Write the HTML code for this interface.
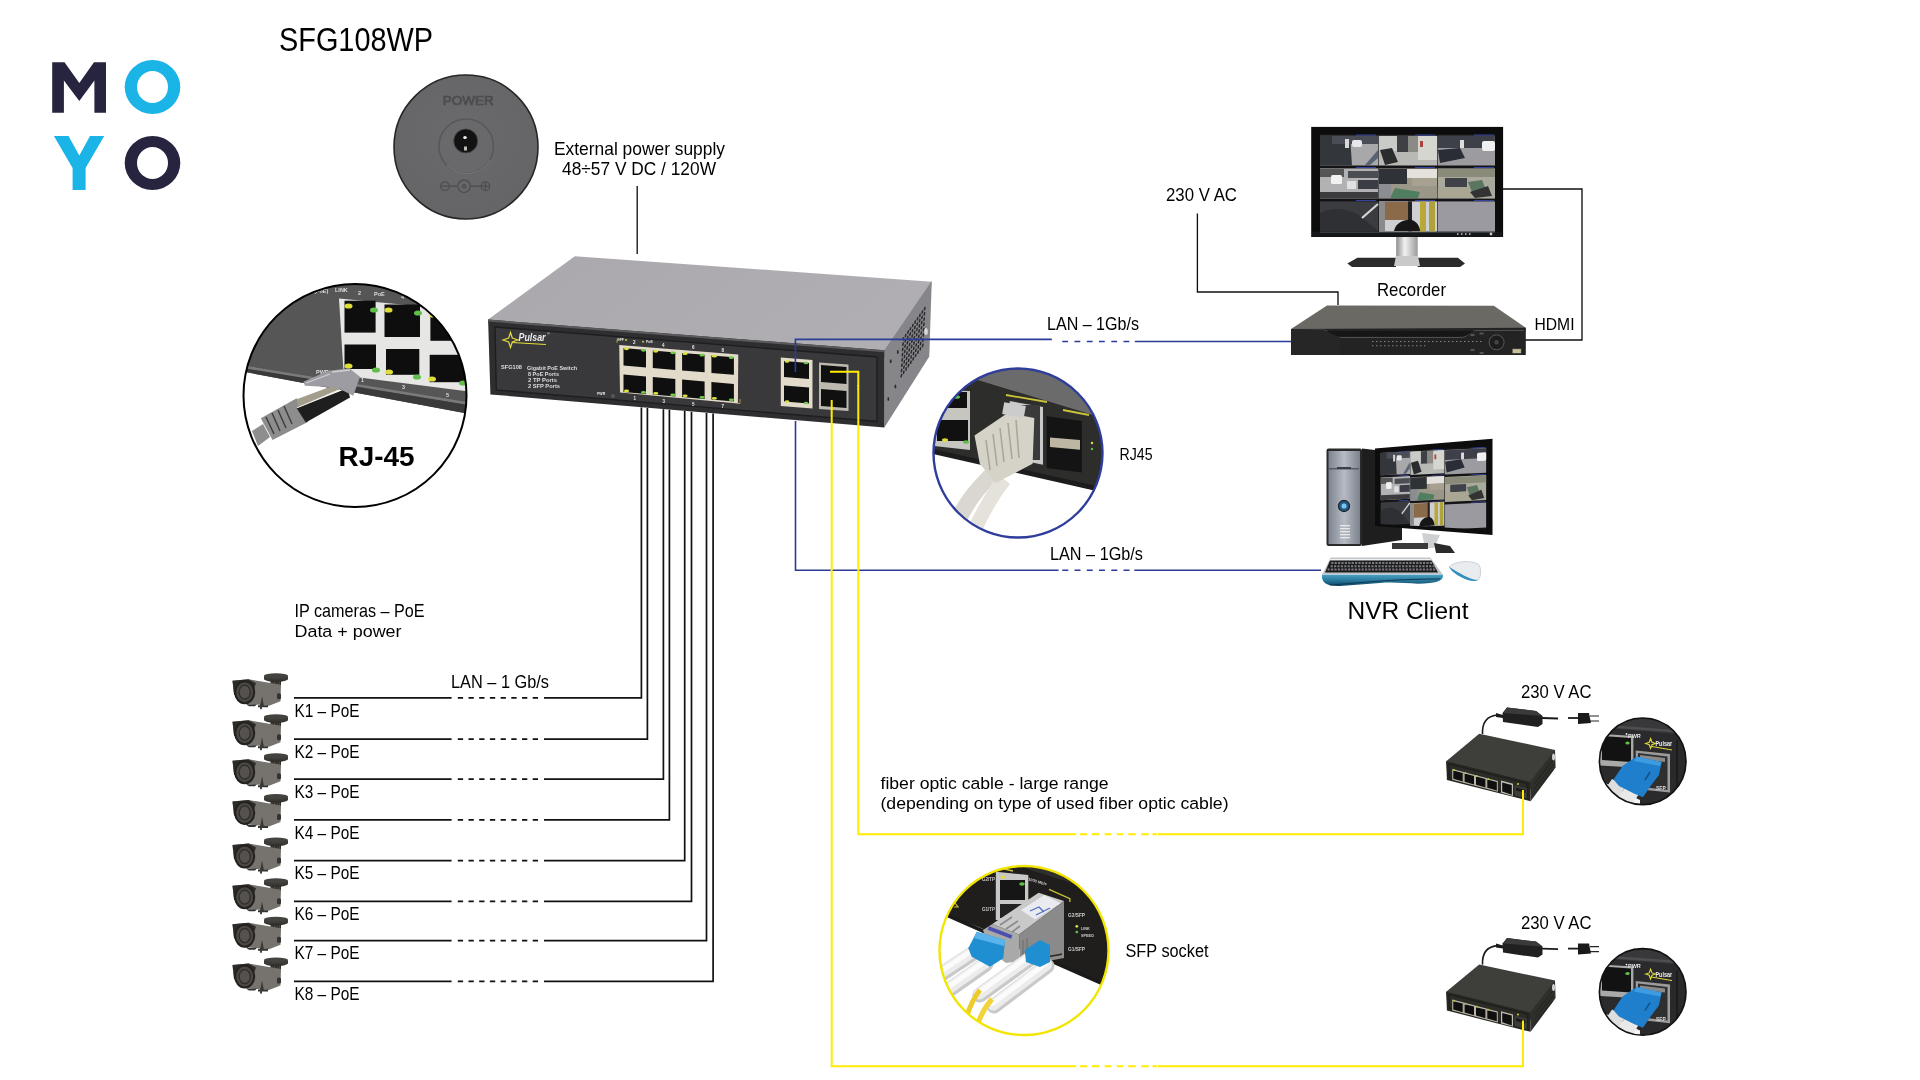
<!DOCTYPE html><html><head><meta charset="utf-8"><style>html,body{margin:0;padding:0;background:#fff;overflow:hidden}svg{display:block;will-change:transform}text{font-family:"Liberation Sans",sans-serif}</style></head><body>
<svg width="1920" height="1080" viewBox="0 0 1920 1080">
<rect width="1920" height="1080" fill="#fff"/>
<polygon points="52.2,62.2 64.5,62.2 79.3,83.0 94.0,62.2 106.0,62.2 106.0,112.8 94.4,112.8 94.4,80.5 79.3,100.9 63.9,80.5 63.9,112.8 52.2,112.8" fill="#26243f" />
<path fill-rule="evenodd" fill="#1ab4e7" d="M124.7,87 a27.8,27 0 1,0 55.6,0 a27.8,27 0 1,0 -55.6,0 Z M137,87 a15.5,16 0 1,0 31,0 a15.5,16 0 1,0 -31,0 Z"/>
<polygon points="53.9,136.1 68.5,136.1 79.3,155.6 90.0,136.1 104.2,136.1 85.6,168.0 85.6,190.0 72.6,190.0 72.6,168.0" fill="#1ab4e7" />
<path fill-rule="evenodd" fill="#26243f" d="M124.7,163 a27.8,27 0 1,0 55.6,0 a27.8,27 0 1,0 -55.6,0 Z M137,163 a15.5,16 0 1,0 31,0 a15.5,16 0 1,0 -31,0 Z"/>
<text x="279.0" y="50.8" font-size="33.80" textLength="154.0" lengthAdjust="spacingAndGlyphs" fill="#000" >SFG108WP</text>
<text x="554.0" y="154.8" font-size="18.20" textLength="171.0" lengthAdjust="spacingAndGlyphs" fill="#000" >External power supply</text>
<text x="562.0" y="175.0" font-size="17.80" textLength="154.0" lengthAdjust="spacingAndGlyphs" fill="#000" >48÷57 V DC / 120W</text>
<text x="1166.0" y="200.9" font-size="18.50" textLength="71.0" lengthAdjust="spacingAndGlyphs" fill="#000" >230 V AC</text>
<text x="1377.0" y="295.6" font-size="17.90" textLength="69.0" lengthAdjust="spacingAndGlyphs" fill="#000" >Recorder</text>
<text x="1534.5" y="330.0" font-size="17.00" textLength="40.0" lengthAdjust="spacingAndGlyphs" fill="#000" >HDMI</text>
<text x="1047.0" y="329.8" font-size="18.90" textLength="92.0" lengthAdjust="spacingAndGlyphs" fill="#000" >LAN – 1Gb/s</text>
<text x="338.5" y="465.7" font-size="27.80" textLength="76.0" lengthAdjust="spacingAndGlyphs" font-weight="bold" fill="#000" >RJ-45</text>
<text x="1119.5" y="459.9" font-size="17.30" textLength="33.0" lengthAdjust="spacingAndGlyphs" fill="#000" >RJ45</text>
<text x="1050.0" y="559.5" font-size="18.40" textLength="93.0" lengthAdjust="spacingAndGlyphs" fill="#000" >LAN – 1Gb/s</text>
<text x="1347.5" y="619.4" font-size="23.80" textLength="121.0" lengthAdjust="spacingAndGlyphs" fill="#000" >NVR Client</text>
<text x="294.5" y="616.9" font-size="18.20" textLength="130.0" lengthAdjust="spacingAndGlyphs" fill="#000" >IP cameras – PoE</text>
<text x="294.5" y="637.2" font-size="16.30" textLength="107.0" lengthAdjust="spacingAndGlyphs" fill="#000" >Data + power</text>
<text x="451.0" y="687.5" font-size="18.60" textLength="98.0" lengthAdjust="spacingAndGlyphs" fill="#000" >LAN – 1 Gb/s</text>
<text x="294.5" y="716.6" font-size="18.20" textLength="65.0" lengthAdjust="spacingAndGlyphs" fill="#000" >K1 – PoE</text>
<text x="294.5" y="757.8" font-size="18.20" textLength="65.0" lengthAdjust="spacingAndGlyphs" fill="#000" >K2 – PoE</text>
<text x="294.5" y="797.8" font-size="18.20" textLength="65.0" lengthAdjust="spacingAndGlyphs" fill="#000" >K3 – PoE</text>
<text x="294.5" y="838.5" font-size="18.20" textLength="65.0" lengthAdjust="spacingAndGlyphs" fill="#000" >K4 – PoE</text>
<text x="294.5" y="879.3" font-size="18.20" textLength="65.0" lengthAdjust="spacingAndGlyphs" fill="#000" >K5 – PoE</text>
<text x="294.5" y="920.0" font-size="18.20" textLength="65.0" lengthAdjust="spacingAndGlyphs" fill="#000" >K6 – PoE</text>
<text x="294.5" y="959.3" font-size="18.20" textLength="65.0" lengthAdjust="spacingAndGlyphs" fill="#000" >K7 – PoE</text>
<text x="294.5" y="1000.0" font-size="18.20" textLength="65.0" lengthAdjust="spacingAndGlyphs" fill="#000" >K8 – PoE</text>
<text x="1521.0" y="698.2" font-size="18.20" textLength="70.5" lengthAdjust="spacingAndGlyphs" fill="#000" >230 V AC</text>
<text x="1521.0" y="928.8" font-size="18.20" textLength="70.5" lengthAdjust="spacingAndGlyphs" fill="#000" >230 V AC</text>
<text x="880.5" y="788.5" font-size="17.20" textLength="228.0" lengthAdjust="spacingAndGlyphs" fill="#000" >fiber optic cable - large range</text>
<text x="880.5" y="808.5" font-size="17.20" textLength="348.0" lengthAdjust="spacingAndGlyphs" fill="#000" >(depending on type of used fiber optic cable)</text>
<text x="1125.5" y="957.4" font-size="18.90" textLength="83.0" lengthAdjust="spacingAndGlyphs" fill="#000" >SFP socket</text>
<g fill="none" stroke="#111" stroke-width="1.7">
<path d="M637.2,186 V254" stroke-width="1.35"/>
<path d="M1197.4,213.5 V292 H1338 V305" stroke-width="1.35"/>
<path d="M1503,189 H1582 V340 H1525" stroke-width="1.35"/>
<path d="M294,697.9 H451.6 M544,697.9 H641.4 V407.4"/>
<path d="M457.8,697.9 h5.3 M468.5,697.9 h5.3 M479.2,697.9 h5.3 M489.9,697.9 h5.3 M500.6,697.9 h5.3 M511.3,697.9 h5.3 M522.0,697.9 h5.3 M532.7,697.9 h5.3 "/>
<path d="M294,739.1 H451.6 M544,739.1 H647.4 V407.9"/>
<path d="M457.8,739.1 h5.3 M468.5,739.1 h5.3 M479.2,739.1 h5.3 M489.9,739.1 h5.3 M500.6,739.1 h5.3 M511.3,739.1 h5.3 M522.0,739.1 h5.3 M532.7,739.1 h5.3 "/>
<path d="M294,779.1 H451.6 M544,779.1 H663.4 V409.3"/>
<path d="M457.8,779.1 h5.3 M468.5,779.1 h5.3 M479.2,779.1 h5.3 M489.9,779.1 h5.3 M500.6,779.1 h5.3 M511.3,779.1 h5.3 M522.0,779.1 h5.3 M532.7,779.1 h5.3 "/>
<path d="M294,819.8 H451.6 M544,819.8 H669.4 V409.8"/>
<path d="M457.8,819.8 h5.3 M468.5,819.8 h5.3 M479.2,819.8 h5.3 M489.9,819.8 h5.3 M500.6,819.8 h5.3 M511.3,819.8 h5.3 M522.0,819.8 h5.3 M532.7,819.8 h5.3 "/>
<path d="M294,860.6 H451.6 M544,860.6 H684.7 V411.1"/>
<path d="M457.8,860.6 h5.3 M468.5,860.6 h5.3 M479.2,860.6 h5.3 M489.9,860.6 h5.3 M500.6,860.6 h5.3 M511.3,860.6 h5.3 M522.0,860.6 h5.3 M532.7,860.6 h5.3 "/>
<path d="M294,901.3 H451.6 M544,901.3 H691.5 V411.7"/>
<path d="M457.8,901.3 h5.3 M468.5,901.3 h5.3 M479.2,901.3 h5.3 M489.9,901.3 h5.3 M500.6,901.3 h5.3 M511.3,901.3 h5.3 M522.0,901.3 h5.3 M532.7,901.3 h5.3 "/>
<path d="M294,940.6 H451.6 M544,940.6 H706.5 V413.0"/>
<path d="M457.8,940.6 h5.3 M468.5,940.6 h5.3 M479.2,940.6 h5.3 M489.9,940.6 h5.3 M500.6,940.6 h5.3 M511.3,940.6 h5.3 M522.0,940.6 h5.3 M532.7,940.6 h5.3 "/>
<path d="M294,981.3 H451.6 M544,981.3 H713.1 V413.6"/>
<path d="M457.8,981.3 h5.3 M468.5,981.3 h5.3 M479.2,981.3 h5.3 M489.9,981.3 h5.3 M500.6,981.3 h5.3 M511.3,981.3 h5.3 M522.0,981.3 h5.3 M532.7,981.3 h5.3 "/>
</g>
<defs>
<radialGradient id="pwrg" cx="0.45" cy="0.4" r="0.6"><stop offset="0" stop-color="#6a6a6d"/><stop offset="1" stop-color="#656568"/></radialGradient>
<linearGradient id="topg" x1="0" y1="0" x2="1" y2="0.3"><stop offset="0" stop-color="#aaa8ac"/><stop offset="1" stop-color="#b0aeb2"/></linearGradient>
<linearGradient id="neckg" x1="0" y1="0" x2="1" y2="0"><stop offset="0" stop-color="#8d8d8d"/><stop offset="0.4" stop-color="#f2f2f2"/><stop offset="1" stop-color="#9a9a9a"/></linearGradient>
</defs>
<circle cx="466" cy="147" r="72" fill="url(#pwrg)" stroke="#262626" stroke-width="1.6"/>
<circle cx="466.2" cy="146.2" r="27.2" fill="#69696c" stroke="#58585b" stroke-width="1.6"/>
<path d="M447,165 A27,27 0 0,0 490,160" fill="none" stroke="#747477" stroke-width="1.2"/>
<circle cx="465.7" cy="140.9" r="12" fill="#121212" stroke="#4a4a4c" stroke-width="0.8"/>
<ellipse cx="465" cy="137.5" rx="1.8" ry="1.6" fill="#f2f2f2"/>
<rect x="464" y="146.5" width="3" height="4" fill="#bdbdb5"/>
<text x="442.8" y="105.2" font-size="12.60" textLength="51.0" lengthAdjust="spacingAndGlyphs" fill="#58585b" stroke="#48484b" stroke-width="0.7">POWER</text>
<g fill="none" stroke="#4c4c4f" stroke-width="1.2"><circle cx="444.9" cy="186.2" r="4.3"/><path d="M441.5,186.2 h7 M449.2,186.2 H457.6 M470.6,186.2 H481.1"/><circle cx="464.1" cy="186.2" r="6.3"/><circle cx="464.1" cy="186.2" r="1.6"/><circle cx="485.4" cy="186.2" r="4.3"/><path d="M482,186.2 h7 M485.4,182.8 v7"/></g>
<polygon points="488.1,319.6 574.8,256.2 931.7,281.7 931.0,290.0 884.2,358.0 489.0,326.0" fill="url(#topg)" />
<polygon points="884.4,350.3 931.7,281.0 929.3,356.6 884.4,427.5" fill="#868589" />
<polygon points="488.1,319.6 884.4,350.3 884.4,427.5 490.4,394.4" fill="#2e2d30" />
<polygon points="488.1,319.6 884.4,350.3 884.4,352.3 488.1,321.6" fill="#5a595c" />
<polygon points="495.0,327.0 877.0,357.0 877.0,421.5 496.3,390.0" fill="#39383b" stroke="#1e1e20" stroke-width="1.4"/>
<path d="M903.00,340.00 l0.5,-2.2 M905.38,336.64 l0.5,-2.2 M907.76,333.28 l0.5,-2.2 M910.14,329.92 l0.5,-2.2 M912.52,326.56 l0.5,-2.2 M914.90,323.20 l0.5,-2.2 M917.28,319.84 l0.5,-2.2 M919.66,316.48 l0.5,-2.2 M922.04,313.12 l0.5,-2.2 M924.42,309.76 l0.5,-2.2 M902.73,345.25 l0.5,-2.2 M905.11,341.89 l0.5,-2.2 M907.49,338.53 l0.5,-2.2 M909.87,335.17 l0.5,-2.2 M912.25,331.81 l0.5,-2.2 M914.62,328.45 l0.5,-2.2 M917.00,325.09 l0.5,-2.2 M919.38,321.73 l0.5,-2.2 M921.76,318.37 l0.5,-2.2 M924.14,315.01 l0.5,-2.2 M902.45,350.50 l0.5,-2.2 M904.83,347.14 l0.5,-2.2 M907.21,343.78 l0.5,-2.2 M909.59,340.42 l0.5,-2.2 M911.97,337.06 l0.5,-2.2 M914.35,333.70 l0.5,-2.2 M916.73,330.34 l0.5,-2.2 M919.11,326.98 l0.5,-2.2 M921.49,323.62 l0.5,-2.2 M923.87,320.26 l0.5,-2.2 M902.17,355.75 l0.5,-2.2 M904.55,352.39 l0.5,-2.2 M906.93,349.03 l0.5,-2.2 M909.31,345.67 l0.5,-2.2 M911.69,342.31 l0.5,-2.2 M914.07,338.95 l0.5,-2.2 M916.45,335.59 l0.5,-2.2 M918.83,332.23 l0.5,-2.2 M921.21,328.87 l0.5,-2.2 M923.59,325.51 l0.5,-2.2 M901.90,361.00 l0.5,-2.2 M904.28,357.64 l0.5,-2.2 M906.66,354.28 l0.5,-2.2 M909.04,350.92 l0.5,-2.2 M911.42,347.56 l0.5,-2.2 M913.80,344.20 l0.5,-2.2 M916.18,340.84 l0.5,-2.2 M918.56,337.48 l0.5,-2.2 M920.94,334.12 l0.5,-2.2 M923.32,330.76 l0.5,-2.2 M901.62,366.25 l0.5,-2.2 M904.00,362.89 l0.5,-2.2 M906.38,359.53 l0.5,-2.2 M908.76,356.17 l0.5,-2.2 M911.14,352.81 l0.5,-2.2 M913.52,349.45 l0.5,-2.2 M915.90,346.09 l0.5,-2.2 M918.28,342.73 l0.5,-2.2 M920.66,339.37 l0.5,-2.2 M923.04,336.01 l0.5,-2.2 M901.35,371.50 l0.5,-2.2 M903.73,368.14 l0.5,-2.2 M906.11,364.78 l0.5,-2.2 M908.49,361.42 l0.5,-2.2 M910.87,358.06 l0.5,-2.2 M913.25,354.70 l0.5,-2.2 M915.63,351.34 l0.5,-2.2 M918.01,347.98 l0.5,-2.2 M920.39,344.62 l0.5,-2.2 M922.77,341.26 l0.5,-2.2 M901.08,376.75 l0.5,-2.2 M903.46,373.39 l0.5,-2.2 M905.84,370.03 l0.5,-2.2 M908.22,366.67 l0.5,-2.2 M910.60,363.31 l0.5,-2.2 M912.98,359.95 l0.5,-2.2 M915.36,356.59 l0.5,-2.2 M917.74,353.23 l0.5,-2.2 M920.12,349.87 l0.5,-2.2 M922.50,346.51 l0.5,-2.2 " stroke="#2a2a2d" stroke-width="1.5" stroke-linecap="round" fill="none"/>
<ellipse cx="897.8" cy="351.9" rx="0.9" ry="2" fill="#2a2a2c"/>
<ellipse cx="890.7" cy="361.3" rx="0.9" ry="2" fill="#2a2a2c"/>
<ellipse cx="895.4" cy="386.5" rx="0.9" ry="2" fill="#2a2a2c"/>
<ellipse cx="888.3" cy="399" rx="0.9" ry="2" fill="#2a2a2c"/>
<ellipse cx="926" cy="331.4" rx="1.8" ry="3.5" fill="#d8d8d8"/>
<path d="M510.5,332.5 L512.3,338 L518,340 L512.3,342 L510.5,347.5 L508.7,342 L503,340 L508.7,338 Z" fill="none" stroke="#e3dc3a" stroke-width="1.2"/>
<text x="518.5" y="340.5" font-size="10" font-weight="bold" font-style="italic" fill="#eee" textLength="27" lengthAdjust="spacingAndGlyphs">Pulsar</text>
<path d="M512,342.5 L546,344.5" stroke="#e3dc3a" stroke-width="1.1"/>
<text x="547" y="335" font-size="4" fill="#ddd">®</text>
<g fill="#ddd" font-size="5" font-weight="bold">
<text x="501" y="368.5" textLength="21" lengthAdjust="spacingAndGlyphs">SFG108</text><text x="527" y="369.5" textLength="50" lengthAdjust="spacingAndGlyphs">Gigabit PoE Switch</text><text x="528" y="375.5" textLength="31" lengthAdjust="spacingAndGlyphs">8 PoE Ports</text><text x="528" y="381.5" textLength="29" lengthAdjust="spacingAndGlyphs">2 TP Ports</text><text x="528" y="387.5" textLength="32" lengthAdjust="spacingAndGlyphs">2 SFP Ports</text>
</g>
<polygon points="619.2,345.0 738.3,354.5 737.9,403.5 620.0,392.5" fill="#e2dbca" />
<polygon points="623.5,348.0 646.0,349.9 646.0,367.4 623.5,365.5" fill="#0f0f10" />
<ellipse cx="626.5" cy="348.8" rx="2.6" ry="1.4" fill="#d9e23a"/>
<ellipse cx="643.5" cy="350.3" rx="2.6" ry="1.4" fill="#6fca4a"/>
<polygon points="623.5,374.6 646.0,376.5 646.0,394.0 623.5,392.1" fill="#0f0f10" />
<ellipse cx="626.5" cy="390.9" rx="2.6" ry="1.4" fill="#d9e23a"/>
<ellipse cx="643.5" cy="392.4" rx="2.6" ry="1.4" fill="#6fca4a"/>
<polygon points="652.8,350.5 675.3,352.4 675.3,369.9 652.8,368.0" fill="#0f0f10" />
<ellipse cx="655.8" cy="351.3" rx="2.6" ry="1.4" fill="#d9e23a"/>
<ellipse cx="672.8" cy="352.8" rx="2.6" ry="1.4" fill="#6fca4a"/>
<polygon points="652.8,377.1 675.3,379.0 675.3,396.5 652.8,394.6" fill="#0f0f10" />
<ellipse cx="655.8" cy="393.4" rx="2.6" ry="1.4" fill="#d9e23a"/>
<ellipse cx="672.8" cy="394.9" rx="2.6" ry="1.4" fill="#6fca4a"/>
<polygon points="682.1,352.9 704.6,354.8 704.6,372.3 682.1,370.4" fill="#0f0f10" />
<ellipse cx="685.1" cy="353.7" rx="2.6" ry="1.4" fill="#d9e23a"/>
<ellipse cx="702.1" cy="355.2" rx="2.6" ry="1.4" fill="#6fca4a"/>
<polygon points="682.1,379.5 704.6,381.4 704.6,398.9 682.1,397.0" fill="#0f0f10" />
<ellipse cx="685.1" cy="395.8" rx="2.6" ry="1.4" fill="#d9e23a"/>
<ellipse cx="702.1" cy="397.3" rx="2.6" ry="1.4" fill="#6fca4a"/>
<polygon points="711.4,355.4 733.9,357.3 733.9,374.8 711.4,372.9" fill="#0f0f10" />
<ellipse cx="714.4" cy="356.2" rx="2.6" ry="1.4" fill="#d9e23a"/>
<ellipse cx="731.4" cy="357.7" rx="2.6" ry="1.4" fill="#6fca4a"/>
<polygon points="711.4,382.0 733.9,383.9 733.9,401.4 711.4,399.5" fill="#0f0f10" />
<ellipse cx="714.4" cy="398.3" rx="2.6" ry="1.4" fill="#d9e23a"/>
<ellipse cx="731.4" cy="399.8" rx="2.6" ry="1.4" fill="#6fca4a"/>
<g fill="#e8e8e8" font-size="4.5" font-weight="bold"><text x="633" y="344">2</text><text x="662" y="346.5">4</text><text x="692" y="349">6</text><text x="721.5" y="351.5">8</text><text x="633.5" y="400">1</text><text x="662.5" y="403">3</text><text x="692" y="405.5">5</text><text x="721.5" y="408">7</text><text x="617" y="341" font-size="3.5">OFF</text><text x="646" y="343" font-size="3.5">PoE</text><text x="597" y="395" font-size="3.5">PWR</text></g>
<circle cx="626" cy="340" r="0.9" fill="#e6e03a"/><circle cx="643" cy="341.7" r="0.9" fill="#e6e03a"/>
<path d="M617,343 V339.5 H620 M740,399 V403.5 H737" stroke="#b9b23a" stroke-width="0.8" fill="none"/>
<circle cx="613" cy="396" r="1.3" fill="none" stroke="#888" stroke-width="0.6"/>
<polygon points="780.8,357.5 812.5,360.0 812.5,408.5 780.8,406.0" fill="#e2dbca" />
<polygon points="784.0,361.0 809.0,363.0 809.0,379.0 784.0,377.0" fill="#0f0f10" />
<ellipse cx="787" cy="361.5" rx="2.3" ry="1.3" fill="#d9e23a"/>
<ellipse cx="806" cy="363.0" rx="2.3" ry="1.3" fill="#6fca4a"/>
<polygon points="784.0,385.5 809.0,387.5 809.0,403.5 784.0,401.5" fill="#0f0f10" />
<ellipse cx="787" cy="401.5" rx="2.3" ry="1.3" fill="#d9e23a"/>
<ellipse cx="806" cy="403.0" rx="2.3" ry="1.3" fill="#6fca4a"/>
<polygon points="819.0,362.5 848.5,364.5 848.5,411.0 819.0,409.0" fill="#bdb9ae" />
<polygon points="821.0,365.0 846.5,367.0 846.5,384.0 821.0,382.0" fill="#101011" />
<polygon points="821.0,389.0 846.5,391.0 846.5,408.0 821.0,406.0" fill="#101011" />
<circle cx="858" cy="386" r="1" fill="#e3e03a"/><circle cx="858" cy="389" r="1" fill="#6fca4a"/>
<g fill="none" stroke="#2a3c97" stroke-width="1.6">
<path d="M795.4,372 V339.4 H1051.8 M1134.8,341.5 H1291"/>
<path d="M1062.3,341.5 h5.8 M1074.5,341.5 h5.8 M1086.8,341.5 h5.8 M1099.0,341.5 h5.8 M1111.3,341.5 h5.8 M1123.5,341.5 h5.8 "/>
<path d="M795.5,421 V570.3 H1058.6 M1134.3,570.3 H1321"/>
<path d="M1062.3,570.3 h6 M1074.5,570.3 h6 M1086.8,570.3 h6 M1099.0,570.3 h6 M1111.3,570.3 h6 M1123.5,570.3 h6 "/>
</g>
<g fill="none" stroke="#ffec00" stroke-width="2">
<path d="M1080,834.2 H1087 M1091.7,834.2 H1099.2 M1104.6,834.2 H1111.25 M1116.7,834.2 H1123.3 M1128.3,834.2 H1135.8 M1141.25,834.2 H1148.75 M1152.5,834.2 H1157"/>
<path d="M1080,1066.25 H1087 M1091.7,1066.25 H1099.2 M1104.6,1066.25 H1111.25 M1116.7,1066.25 H1123.3 M1128.3,1066.25 H1135.8 M1141.25,1066.25 H1148.75 M1152.5,1066.25 H1157"/>
<path d="M830,371.8 H858.3 V834.2 H1076.25 M1158,834.2 H1523 V790"/>
<path d="M831.7,400 V1066.25 H1076.25 M1158,1066.25 H1523 V1020.6"/>
</g>
<clipPath id="c1"><circle cx="355" cy="395.5" r="111.5"/></clipPath>
<g clip-path="url(#c1)">
<rect x="240" y="280" width="230" height="230" fill="#fff"/>
<polygon points="240.0,270.0 480.0,270.0 480.0,416.0 240.0,371.0" fill="#565657" />
<polygon points="240.0,365.0 480.0,404.0 480.0,407.0 240.0,368.0" fill="#7a7a7b" />
<polygon points="240.0,367.5 480.0,407.0 480.0,416.0 240.0,371.0" fill="#3a3a3b" />
<polygon points="339.0,298.5 480.0,312.0 480.0,393.0 343.7,375.5" fill="#e6e6e5" />
<rect x="344.5" y="300.7" width="31.1" height="31.9" fill="#0e0e0f"/>
<rect x="384.5" y="304.5" width="35.5" height="32.5" fill="#0e0e0f"/>
<rect x="430.4" y="310.4" width="49.6" height="30.4" fill="#0e0e0f"/>
<rect x="344.5" y="344.5" width="31.5" height="24.5" fill="#0e0e0f"/>
<rect x="386" y="349" width="33.3" height="25.8" fill="#0e0e0f"/>
<rect x="429.7" y="354.8" width="50.3" height="27.4" fill="#0e0e0f"/>
<ellipse cx="348.5" cy="306" rx="4" ry="2.6" fill="#dede3a"/>
<ellipse cx="374" cy="310" rx="4" ry="2.6" fill="#5fbf4a"/>
<ellipse cx="388.5" cy="310" rx="4" ry="2.6" fill="#dede3a"/>
<ellipse cx="418" cy="313" rx="4" ry="2.6" fill="#5fbf4a"/>
<ellipse cx="433" cy="315" rx="4" ry="2.6" fill="#dede3a"/>
<ellipse cx="348.5" cy="366" rx="4" ry="2.6" fill="#dede3a"/>
<ellipse cx="376" cy="370" rx="4" ry="2.6" fill="#5fbf4a"/>
<ellipse cx="389" cy="372" rx="4" ry="2.6" fill="#dede3a"/>
<ellipse cx="417" cy="377" rx="4" ry="2.6" fill="#5fbf4a"/>
<ellipse cx="432" cy="379" rx="4" ry="2.6" fill="#dede3a"/>
<ellipse cx="463" cy="383" rx="4" ry="2.6" fill="#5fbf4a"/>
<g fill="#ddd" font-size="5.5" font-weight="bold"><text x="314" y="293">(PoE)</text><text x="335" y="292">LINK</text><text x="358" y="295">2</text><text x="374" y="296">PoE</text><text x="401" y="299">4</text><text x="316" y="374">PWR</text><text x="361" y="382">1</text><text x="402" y="389">3</text><text x="446" y="397">5</text></g>
<path d="M252,431 L263,424 L270,437 L258,446 Z" fill="#8e8e8e"/>
<polygon points="260.8,418.3 296.7,398.3 308.3,421.7 272.5,440.0" fill="#8d8d8d" />
<path d="M266,417 l8,17 M272,413 l8,18 M278,410 l8,18 M284,406 l8,18" stroke="#3f3f3f" stroke-width="1.5"/>
<polygon points="296.7,408.3 347.5,388.3 350.0,397.5 305.8,422.5" fill="#1e1e1e" />
<polygon points="296.7,399.2 335.0,385.0 340.0,389.0 298.3,407.5" fill="#a39d8c" />
<path d="M297,407.8 L340,389.5" stroke="#e8e8e0" stroke-width="1"/>
<polygon points="303.3,381.7 328.3,370.8 349.2,368.3 360.0,376.7 353.3,395.8 336.7,387.5 305.0,385.8" fill="#9c9ca2" />
<path d="M306,383 L330,374 M332,372 L350,370" stroke="#cfcfd4" stroke-width="1.3"/>
</g>
<circle cx="355" cy="395.5" r="111.5" fill="none" stroke="#000" stroke-width="2"/>
<text x="338.5" y="465.7" font-size="27.80" textLength="76.0" lengthAdjust="spacingAndGlyphs" font-weight="bold" fill="#000" >RJ-45</text>
<clipPath id="c2"><circle cx="1018" cy="453" r="84.5"/></clipPath>
<g clip-path="url(#c2)">
<rect x="920" y="360" width="200" height="200" fill="#fff"/>
<polygon points="920.0,355.0 1110.0,355.0 1110.0,494.0 934.0,451.5 920.0,449.0" fill="#2d2d2b" />
<polygon points="960.0,355.0 1110.0,355.0 1110.0,420.0 971.0,378.0" fill="#6b6b6b" />
<polygon points="920.0,446.0 1110.0,489.0 1110.0,494.0 920.0,451.0" fill="#1c1c1d" />
<polygon points="933.0,390.0 970.0,391.0 970.0,450.0 934.0,446.0" fill="#c6c5c0" />
<rect x="937" y="392" width="30" height="16" fill="#111"/><rect x="937" y="420" width="31" height="21" fill="#111"/>
<ellipse cx="957" cy="397" rx="3" ry="1.8" fill="#5fbf4a"/><ellipse cx="945" cy="440" rx="3" ry="1.8" fill="#dede3a"/><ellipse cx="966" cy="442" rx="3" ry="1.8" fill="#5fbf4a"/>
<polygon points="1009.7,401.0 1043.0,407.0 1043.0,464.7 1009.7,458.0" fill="#c9c9c9" />
<rect x="1013" y="405" width="27" height="55" fill="#3a3a3a"/>
<polygon points="1046.6,416.3 1081.8,421.0 1081.8,472.6 1046.6,468.0" fill="#141415" />
<polygon points="1050.0,437.4 1080.0,440.0 1080.0,449.7 1050.0,447.0" fill="#bdb6a3" />
<path d="M1006,395 L1047,402 M1063,410 L1089,415" stroke="#c9c23a" stroke-width="1.8" fill="none"/>
<circle cx="1092" cy="443" r="1.2" fill="#dede3a"/><circle cx="1092" cy="449" r="1.2" fill="#5fbf4a"/>
<path d="M985,470 C965,490 950,510 942,540 L958,545 C966,518 978,498 998,480 Z" fill="#d9d7cf"/>
<path d="M998,474 C985,495 972,515 960,545 L975,548 C985,522 996,502 1010,484 Z" fill="#e4e2da"/>
<polygon points="974.5,435.6 1008.0,412.8 1034.3,418.0 1032.6,463.8 995.6,483.0 979.8,463.8" fill="#d5d2c8" />
<path d="M986,440 l4,30 M993,434 l4,32 M1000,428 l4,34 M1008,423 l4,36 M1016,420 l3,38" stroke="#aaa69a" stroke-width="1.6"/>
<rect x="1003" y="404" width="22" height="12" fill="#ccc" transform="rotate(10 1014 410)"/>
</g>
<circle cx="1018" cy="453" r="84.5" fill="none" stroke="#2f3d9b" stroke-width="2.4"/>
<clipPath id="c3"><circle cx="1024" cy="950.5" r="84.5"/></clipPath>
<g clip-path="url(#c3)">
<rect x="930" y="860" width="190" height="190" fill="#fff"/>
<polygon points="930.0,860.0 1120.0,860.0 1120.0,990.0 1103.3,983.3 978.0,926.7 946.7,915.0 930.0,909.0" fill="#1f1e1c" />
<polygon points="1010.0,860.0 1120.0,860.0 1120.0,898.0 1030.0,870.0" fill="#2e2e2c" />
<polygon points="946.7,913.0 1110.0,985.0 1110.0,989.0 946.7,917.0" fill="#1a1a1b" />
<text x="982" y="881" font-size="4.5" font-weight="bold" fill="#ccc">G2/TP</text><text x="982" y="911" font-size="4.5" font-weight="bold" fill="#ccc">G1/TP</text>
<path d="M955,903 l3,4 h-4" stroke="#c9c23a" stroke-width="1.2" fill="none"/>
<polygon points="995.8,871.7 1028.3,875.0 1028.3,922.0 995.8,920.0" fill="#c8c8c8" />
<rect x="1000" y="880" width="25" height="20" fill="#161616"/><rect x="1000" y="904" width="24" height="14" fill="#222"/>
<ellipse cx="1003" cy="877" rx="2.5" ry="1.5" fill="#dede3a"/><ellipse cx="1022" cy="884" rx="2.8" ry="1.8" fill="#5fbf4a"/>
<path d="M1000,868 L1013,871 M1049,889.3 L1069.9,898.6 V902" stroke="#c9c23a" stroke-width="1.3" fill="none"/>
<text x="1015" y="877" font-size="4" font-weight="bold" fill="#ccc" transform="rotate(15 1015 877)">10/100/1000 Mb/s</text>
<text x="1068" y="917" font-size="4.8" font-weight="bold" fill="#ccc">G2/SFP</text><text x="1068" y="951" font-size="4.8" font-weight="bold" fill="#ccc">G1/SFP</text><text x="1081" y="930" font-size="3.8" font-weight="bold" fill="#ccc">LINK</text><text x="1081" y="937" font-size="3.8" font-weight="bold" fill="#ccc">SPEED</text>
<circle cx="1076.8" cy="926.3" r="1.4" fill="#dede3a"/><circle cx="1076.8" cy="932.1" r="1.4" fill="#5fbf4a"/>
<polygon points="1040.0,918.0 1064.0,915.0 1064.0,958.0 1043.0,962.0" fill="#8f8e8a" />
<polygon points="1045.0,924.0 1062.0,921.0 1062.0,955.0 1045.0,958.0" fill="#2a2a2a" />
<polygon points="983.0,930.0 992.3,924.0 1019.0,934.4 1020.0,961.0 1006.0,963.0 990.0,951.0" fill="#a9a9a9" />
<polygon points="992.3,924.0 1038.6,892.8 1064.0,900.9 1019.0,934.4" fill="#c9c9c9" />
<polygon points="1019.0,934.4 1064.0,900.9 1064.0,953.0 1020.0,961.0" fill="#8a8a8a" />
<polygon points="1021.0,910.0 1044.4,895.0 1060.6,903.2 1035.0,919.4" fill="#e9ebf1" />
<path d="M1030,911 l9,-4 l5,5 M1036,915 l14,-7" stroke="#4f6fc0" stroke-width="1.3" fill="none"/>
<path d="M1000,925 l12,-8 M1006,929 l12,-8 M1012,932 l8,-6" stroke="#8a8a8a" stroke-width="1.6"/>
<path d="M1023,940 v16 M1027,938 v16" stroke="#6a6a6a" stroke-width="1"/>
<path d="M988.3,928 L1011.7,937" stroke="#4a4fb0" stroke-width="4"/>
<path d="M972,954 L922,987" stroke="#c9c9c9" stroke-width="15" stroke-linecap="round"/>
<path d="M971.2,952.8 L921.2,985.8" stroke="#ececec" stroke-width="11.5" stroke-linecap="round"/>
<path d="M970.5,951.6 L920.5,984.6" stroke="#fbfbfb" stroke-width="5" stroke-linecap="round"/>
<path d="M986,964 L936,999" stroke="#c9c9c9" stroke-width="15" stroke-linecap="round"/>
<path d="M985.2,962.8 L935.2,997.8" stroke="#ececec" stroke-width="11.5" stroke-linecap="round"/>
<path d="M984.5,961.6 L934.5,996.6" stroke="#fbfbfb" stroke-width="5" stroke-linecap="round"/>
<path d="M1034,956 L980,995" stroke="#c9c9c9" stroke-width="15" stroke-linecap="round"/>
<path d="M1033.2,954.8 L979.2,993.8" stroke="#ececec" stroke-width="11.5" stroke-linecap="round"/>
<path d="M1032.5,953.6 L978.5,992.6" stroke="#fbfbfb" stroke-width="5" stroke-linecap="round"/>
<path d="M1047,966 L994,1006" stroke="#c9c9c9" stroke-width="15" stroke-linecap="round"/>
<path d="M1046.2,964.8 L993.2,1004.8" stroke="#ececec" stroke-width="11.5" stroke-linecap="round"/>
<path d="M1045.5,963.6 L992.5,1003.6" stroke="#fbfbfb" stroke-width="5" stroke-linecap="round"/>
<path d="M980,990 C972,1000 968,1010 964,1025" stroke="#eccb2a" stroke-width="5" fill="none"/><path d="M992,999 C984,1008 979,1018 975,1032" stroke="#f2d43a" stroke-width="5" fill="none"/>
<polygon points="968.3,948.3 976.7,931.7 1005.0,940.0 1003.3,958.3 990.0,966.7 971.7,956.7" fill="#1f8fd2" />
<polygon points="976.7,931.7 1005.0,940.0 1004.0,946.0 974.0,938.0" fill="#5ab3ea" />
<polygon points="1024.7,950.0 1040.0,940.0 1050.0,945.0 1050.0,962.0 1040.0,967.0 1026.0,962.0" fill="#1f8fd2" />
</g>
<circle cx="1024" cy="950.5" r="84.5" fill="none" stroke="#f2e500" stroke-width="2.4"/>
<rect x="1311.2" y="126.9" width="191.9" height="110.1" fill="#0c0c0c"/>
<rect x="1312" y="231.7" width="190" height="5" fill="#161719"/>
<rect x="1320" y="231.7" width="175" height="0.8" fill="#5a6068"/>
<g fill="#ccc"><rect x="1457" y="233.3" width="1.5" height="1.5"/><rect x="1461" y="233.3" width="1.5" height="1.5"/><rect x="1465" y="233.3" width="1.5" height="1.5"/><rect x="1469" y="233.3" width="1.5" height="1.5"/><circle cx="1491" cy="234" r="1.4"/></g>
<g id="screen"><rect x="1320" y="134" width="175" height="98" fill="#141416"/><rect x="1320" y="135.8" width="58.4" height="29.7" fill="#a8a7aa"/><path d="M1320,135.8 H1350 L1352,165.5 H1320 Z" fill="#33363b"/><rect x="1332" y="136" width="46" height="8" fill="#4a4d55"/><rect x="1352" y="140" width="10" height="7" rx="2" fill="#e8e8ea"/><rect x="1345" y="139" width="4" height="9" fill="#d8d8d8"/><path d="M1365,165 L1378,150 V158 L1370,165 Z" fill="#5a6275"/><rect x="1379" y="135.8" width="58.2" height="29.7" fill="#b8b8b4"/><rect x="1379" y="136" width="18" height="15" fill="#c9cbc9"/><rect x="1397" y="136" width="11" height="16" fill="#3d4045"/><rect x="1408" y="136" width="10" height="16" fill="#8c8a84"/><rect x="1418" y="136" width="19" height="24" fill="#d6d6d0"/><path d="M1380,150 L1392,148 L1398,162 L1385,165 Z" fill="#2a2c2e"/><rect x="1420" y="141" width="3" height="6" fill="#b04040"/><rect x="1437.8" y="135.8" width="57.2" height="29.7" fill="#9c9ca0"/><rect x="1437.8" y="136" width="57" height="12" fill="#3d4048"/><path d="M1438,150 L1460,148 L1465,158 L1440,163 Z" fill="#2a2d35"/><rect x="1482" y="141" width="13" height="10" rx="2" fill="#f0f0f2"/><rect x="1460" y="140" width="4" height="8" fill="#ddd"/><rect x="1320" y="168.4" width="58.4" height="30.2" fill="#b2b2b4"/><rect x="1320" y="169" width="24" height="8" fill="#555"/><rect x="1331" y="175" width="11" height="9" rx="1.5" fill="#f2f2f2"/><rect x="1348" y="171" width="30" height="7" fill="#4a4d52"/><rect x="1358" y="180" width="20" height="9" fill="#3a3d45"/><rect x="1347" y="181" width="9" height="8" fill="#e0e0e0"/><rect x="1320" y="192" width="58" height="6.6" fill="#3c3c3e"/><rect x="1379" y="168.4" width="58.2" height="30.2" fill="#9a9688"/><rect x="1379" y="169" width="28" height="15" fill="#2f3236"/><rect x="1407" y="169" width="30" height="9" fill="#e4e1dc"/><rect x="1412" y="178" width="25" height="8" fill="#a8a090"/><path d="M1390,198 L1395,188 L1420,192 L1418,198 Z" fill="#4f7f60"/><rect x="1379" y="184" width="12" height="14" fill="#8a8d92"/><rect x="1437.8" y="168.4" width="57.2" height="30.2" fill="#a9a99e"/><rect x="1437.8" y="169" width="57" height="8" fill="#8a8a78"/><rect x="1445" y="178" width="22" height="9" fill="#3f4248"/><rect x="1437.8" y="187" width="38" height="11" fill="#a9a693"/><path d="M1468,182 L1482,180 L1486,190 L1472,192 Z" fill="#5a7560"/><path d="M1470,192 L1488,186 L1492,196 L1475,198 Z" fill="#333"/><rect x="1320" y="201.4" width="58.4" height="30.2" fill="#3a3c3f"/><path d="M1320,213 C1335,205 1355,210 1365,220 L1378,231 H1320 Z" fill="#2e3033"/><path d="M1362,218 L1378,204" stroke="#d6d6d6" stroke-width="2.2"/><rect x="1379" y="201.4" width="58.2" height="30.2" fill="#cfcfd3"/><rect x="1379" y="201.4" width="6" height="30" fill="#8a8a8a"/><rect x="1385" y="202" width="23" height="18" fill="#8a6a48"/><rect x="1408" y="201.4" width="4" height="30" fill="#222"/><rect x="1420" y="201.4" width="6" height="30" fill="#b8a838"/><rect x="1429" y="201.4" width="6" height="30" fill="#b0a23a"/><path d="M1394,231 C1396,222 1405,219 1412,220 C1418,222 1420,228 1420,231 Z" fill="#161616"/><rect x="1437.8" y="201.4" width="57.2" height="30.2" fill="#9a9aa0"/><g fill="#3a4ab0"><rect x="1356" y="134.6" width="20" height="0.9"/><rect x="1415" y="134.6" width="20" height="0.9"/><rect x="1474" y="134.6" width="20" height="0.9"/><rect x="1356" y="167" width="20" height="0.9"/><rect x="1415" y="167" width="20" height="0.9"/><rect x="1474" y="167" width="20" height="0.9"/><rect x="1356" y="200" width="20" height="0.9"/><rect x="1415" y="200" width="20" height="0.9"/><rect x="1474" y="200" width="20" height="0.9"/></g></g>
<rect x="1396.2" y="237" width="21.5" height="22" fill="url(#neckg)"/>
<polygon points="1347.4,263.5 1357.4,257.8 1396.0,257.8 1396.0,267.0 1352.0,267.0" fill="#2b2b2b" />
<polygon points="1417.7,257.8 1457.9,257.8 1465.0,263.5 1460.0,267.0 1417.7,267.0" fill="#2b2b2b" />
<polygon points="1396.0,256.0 1418.0,256.0 1420.0,266.0 1394.0,266.0" fill="#c9c9c9" />
<polygon points="1291.0,329.0 1327.0,305.5 1493.8,305.7 1525.8,327.7 1525.8,332.0 1291.0,332.0" fill="#6b6963" />
<polygon points="1291.0,329.0 1525.8,327.7 1525.8,355.0 1291.0,355.0" fill="#232323" />
<path d="M1292,330 H1324 C1330,331 1332,337 1340,337.5 H1462 C1468,337 1470,331 1476,330.5 H1524" stroke="#4f4f4f" stroke-width="1.1" fill="none"/>
<path d="M1324,331 C1330,332 1332,336.5 1340,336.5 H1462 C1468,336.5 1470,332 1476,331 Z" fill="#161616"/>
<path d="M1372.0,341.5 h1.4 M1372.0,345.8 h1.4 M1376.0,341.5 h1.4 M1376.0,345.8 h1.4 M1380.0,341.5 h1.4 M1380.0,345.8 h1.4 M1384.0,341.5 h1.4 M1384.0,345.8 h1.4 M1388.0,341.5 h1.4 M1388.0,345.8 h1.4 M1392.0,341.5 h1.4 M1392.0,345.8 h1.4 M1396.0,341.5 h1.4 M1396.0,345.8 h1.4 M1400.0,341.5 h1.4 M1400.0,345.8 h1.4 M1404.0,341.5 h1.4 M1404.0,345.8 h1.4 M1408.0,341.5 h1.4 M1408.0,345.8 h1.4 M1412.0,341.5 h1.4 M1412.0,345.8 h1.4 M1416.0,341.5 h1.4 M1416.0,345.8 h1.4 M1420.0,341.5 h1.4 M1420.0,345.8 h1.4 M1424.0,341.5 h1.4 M1424.0,345.8 h1.4 M1428.0,341.5 h1.4 M1432.0,341.5 h1.4 M1436.0,341.5 h1.4 M1440.0,341.5 h1.4 M1444.0,341.5 h1.4 M1448.0,341.5 h1.4 M1452.0,341.5 h1.4 M1456.0,341.5 h1.4 M1460.0,341.5 h1.4 M1464.0,341.5 h1.4 M1468.0,341.5 h1.4 M1472.0,341.5 h1.4 M1476.0,341.5 h1.4 M1480.0,341.5 h1.4 " stroke="#8a8a8a" stroke-width="1.1"/>
<circle cx="1496.6" cy="342.3" r="7.5" fill="#1d1d1d" stroke="#5a5a5a" stroke-width="1"/><circle cx="1496.6" cy="342.3" r="2.2" fill="#444"/>
<g fill="#555"><rect x="1470.5" y="334" width="4" height="2"/><rect x="1479.6" y="332.5" width="4" height="2"/><rect x="1470.5" y="349" width="4" height="2"/><rect x="1479.6" y="352" width="4" height="2"/></g>
<rect x="1512.2" y="348.8" width="9" height="4.6" fill="#c9bf9a" stroke="#333" stroke-width="0.6"/>
<polygon points="1291.0,329.0 1324.0,330.0 1340.0,337.5 1340.0,355.0 1291.0,355.0" fill="#262626" />
<linearGradient id="towg" x1="0" y1="0" x2="1" y2="0"><stop offset="0" stop-color="#7d8490"/><stop offset="0.5" stop-color="#b7bcc4"/><stop offset="1" stop-color="#7b828c"/></linearGradient>
<polygon points="1362.0,448.5 1375.0,450.0 1402.0,470.0 1402.0,540.0 1362.0,546.0" fill="#1e1e1e" />
<rect x="1326.5" y="448.5" width="35.5" height="97.5" rx="2" fill="#2a2a2a"/>
<rect x="1328.5" y="451" width="31.5" height="93" fill="url(#towg)"/>
<rect x="1329" y="468" width="30" height="1.5" fill="#555b63"/><rect x="1337" y="467" width="14" height="2" fill="#3a3f46"/>
<circle cx="1344" cy="506" r="5.5" fill="#1d5f8e" stroke="#222" stroke-width="1.3"/><circle cx="1344" cy="506" r="2.5" fill="#7fc6ee"/>
<g fill="#e6e8eb"><rect x="1340" y="525" width="10" height="1.3"/><rect x="1340" y="528" width="10" height="1.3"/><rect x="1340" y="531" width="10" height="1.3"/><rect x="1340" y="534" width="10" height="1.3"/><rect x="1340" y="537" width="10" height="1.3"/></g>
<polygon points="1375.0,448.5 1492.5,438.7 1492.5,535.0 1375.0,526.0" fill="#0d0d0d" />
<rect x="1380" y="445" width="107" height="86" fill="#141416" clip-path="url(#nvrall)"/>
<clipPath id="nvrall"><polygon points="1380.5,451.6 1486.4,446.5 1486.4,530 1380.5,523.9"/></clipPath>
<clipPath id="nvc0"><polygon points="1380.5,451.60 1410,450.18 1410,525.60 1380.5,523.90"/></clipPath>
<g clip-path="url(#nvc0)"><use href="#screen" transform="matrix(0.50514,-0.02433,0,0.75367,713.719,382.719)"/></g>
<clipPath id="nvc1"><polygon points="1410,450.18 1444.6,448.51 1444.6,527.59 1410,525.60"/></clipPath>
<g clip-path="url(#nvc1)"><use href="#screen" transform="matrix(0.58844,-0.02834,0,0.78826,598.901,383.614)"/></g>
<clipPath id="nvc2"><polygon points="1444.6,448.51 1486.4,446.50 1486.4,530.00 1444.6,527.59"/></clipPath>
<g clip-path="url(#nvc2)"><use href="#screen" transform="matrix(0.72318,-0.03483,0,0.82949,405.241,387.416)"/></g>
<polygon points="1422.0,533.0 1440.0,535.0 1434.0,548.0 1425.0,548.0" fill="#cfd0d2" />
<polygon points="1392.0,543.0 1428.0,543.0 1428.0,549.0 1392.0,549.0" fill="#3a3a3a" />
<polygon points="1434.0,543.0 1450.0,546.0 1455.0,553.0 1436.0,553.0" fill="#2b2b2b" />
<linearGradient id="kbg" x1="0" y1="0" x2="0" y2="1"><stop offset="0" stop-color="#4aa3c4"/><stop offset="0.5" stop-color="#2a7a9e"/><stop offset="1" stop-color="#0e4260"/></linearGradient>
<path d="M1322,574.5 C1321,582 1326,586.5 1340,586 L1380,583 C1400,581.5 1412,585 1430,583 C1440,582 1444,579 1442.8,574.5 Z" fill="url(#kbg)"/>
<path d="M1330,585 C1360,583 1390,579 1440,579" stroke="#0c3a55" stroke-width="1" fill="none"/>
<polygon points="1330.6,557.5 1430.4,557.5 1442.8,574.5 1322.2,574.5" fill="#c2c5c8" />
<polygon points="1331.0,559.0 1430.0,559.0 1432.0,560.5 1329.0,560.5" fill="#eef0f2" />
<polygon points="1330.0,560.6 1431.5,560.6 1438.0,572.5 1325.0,572.5" fill="#1c1c1e" />
<path d="M1331.2,563.0 h2.2 M1334.6,563.0 h2.2 M1338.0,563.0 h2.2 M1341.4,563.0 h2.2 M1344.8,563.0 h2.2 M1348.2,563.0 h2.2 M1351.6,563.0 h2.2 M1355.0,563.0 h2.2 M1358.4,563.0 h2.2 M1361.8,563.0 h2.2 M1365.2,563.0 h2.2 M1368.6,563.0 h2.2 M1372.0,563.0 h2.2 M1375.4,563.0 h2.2 M1378.8,563.0 h2.2 M1382.2,563.0 h2.2 M1385.6,563.0 h2.2 M1389.0,563.0 h2.2 M1392.4,563.0 h2.2 M1395.8,563.0 h2.2 M1399.2,563.0 h2.2 M1402.6,563.0 h2.2 M1406.0,563.0 h2.2 M1409.4,563.0 h2.2 M1412.8,563.0 h2.2 M1416.2,563.0 h2.2 M1419.6,563.0 h2.2 M1423.0,563.0 h2.2 M1426.4,563.0 h2.2 M1429.8,563.0 h2.2 M1330.6,566.2 h2.2 M1334.0,566.2 h2.2 M1337.4,566.2 h2.2 M1340.8,566.2 h2.2 M1344.2,566.2 h2.2 M1347.6,566.2 h2.2 M1351.0,566.2 h2.2 M1354.4,566.2 h2.2 M1357.8,566.2 h2.2 M1361.2,566.2 h2.2 M1364.6,566.2 h2.2 M1368.0,566.2 h2.2 M1371.4,566.2 h2.2 M1374.8,566.2 h2.2 M1378.2,566.2 h2.2 M1381.6,566.2 h2.2 M1385.0,566.2 h2.2 M1388.4,566.2 h2.2 M1391.8,566.2 h2.2 M1395.2,566.2 h2.2 M1398.6,566.2 h2.2 M1402.0,566.2 h2.2 M1405.4,566.2 h2.2 M1408.8,566.2 h2.2 M1412.2,566.2 h2.2 M1415.6,566.2 h2.2 M1419.0,566.2 h2.2 M1422.4,566.2 h2.2 M1425.8,566.2 h2.2 M1429.2,566.2 h2.2 M1432.6,566.2 h2.2 M1327.6,569.4 h2.2 M1331.0,569.4 h2.2 M1334.4,569.4 h2.2 M1337.8,569.4 h2.2 M1341.2,569.4 h2.2 M1344.6,569.4 h2.2 M1348.0,569.4 h2.2 M1351.4,569.4 h2.2 M1354.8,569.4 h2.2 M1358.2,569.4 h2.2 M1361.6,569.4 h2.2 M1365.0,569.4 h2.2 M1368.4,569.4 h2.2 M1371.8,569.4 h2.2 M1375.2,569.4 h2.2 M1378.6,569.4 h2.2 M1382.0,569.4 h2.2 M1385.4,569.4 h2.2 M1388.8,569.4 h2.2 M1392.2,569.4 h2.2 M1395.6,569.4 h2.2 M1399.0,569.4 h2.2 M1402.4,569.4 h2.2 M1405.8,569.4 h2.2 M1409.2,569.4 h2.2 M1412.6,569.4 h2.2 M1416.0,569.4 h2.2 M1419.4,569.4 h2.2 M1422.8,569.4 h2.2 M1426.2,569.4 h2.2 M1429.6,569.4 h2.2 M1433.0,569.4 h2.2 " stroke="#77797c" stroke-width="2"/>
<path d="M1449,567 C1455,561 1470,560 1478,564 C1482,567 1481,578 1478,580 C1470,582 1460,575 1449,567 Z" fill="#e9ecef" stroke="#c2c7cc" stroke-width="0.8"/>
<path d="M1449,567 C1458,572 1470,580 1478,580 C1472,583 1460,578 1452,571 Z" fill="#2f8fbf"/>
<defs><g id="cam">
<ellipse cx="50" cy="8.5" rx="12" ry="3.2" fill="#35332f"/>
<rect x="38" y="5" width="24" height="4.5" rx="1.5" fill="#3d3b37"/>
<ellipse cx="50" cy="5.5" rx="12" ry="2.5" fill="#45433f"/>
<path d="M44.5,10.5 H55 V16 L44.5,14 Z" fill="#2f2d2a"/>
<path d="M46,11.5 v4 M48.5,11.5 v4.5 M51,11.5 v5 M53.5,11.5 v5" stroke="#55524d" stroke-width="0.8"/>
<path d="M6.5,10.5 L22.5,9 L55,14.5 L54.5,31 L43,35.5 L16,33 L8,24 Z" fill="#76726d"/>
<path d="M6.5,10.5 L22.5,9 L30,13 L22,34 L16,33 L8,24 Z" fill="#2e2c29"/>
<ellipse cx="18.7" cy="22" rx="9.5" ry="11" fill="#4a4744" stroke="#24221f" stroke-width="2"/>
<ellipse cx="18.7" cy="22" rx="5.5" ry="7" fill="#55524e" stroke="#2f2d2a" stroke-width="1.2"/>
<rect x="51" y="23" width="4" height="6" rx="1.5" fill="#333"/>
<path d="M20,34 l3,2 h6 l2,-2 M32,35 h10 v2 h-10 Z" fill="#333"/>
<rect x="34" y="34" width="2" height="5" fill="#444"/>
<path d="M36,26 L38,36 L34,37 Z" fill="#3a3835"/>
</g></defs>
<use href="#cam" x="226" y="670.2"/>
<use href="#cam" x="226" y="711.2"/>
<use href="#cam" x="226" y="750.2"/>
<use href="#cam" x="226" y="790.9"/>
<use href="#cam" x="226" y="834.6"/>
<use href="#cam" x="226" y="875.2"/>
<use href="#cam" x="226" y="913.7"/>
<use href="#cam" x="226" y="954.6"/>
<defs><g id="sw">
<path d="M1497,715 C1488,716 1482,722 1482.5,734" stroke="#1a1a1a" stroke-width="1.6" fill="none"/>
<path d="M1542,718 L1558,718.5" stroke="#1a1a1a" stroke-width="1.8"/>
<path d="M1568,718 L1584,718" stroke="#1a1a1a" stroke-width="1.8"/>
<path d="M1578,713 L1589,713 L1591,723 L1578,724 Z" fill="#1a1a1a"/>
<path d="M1590,716 H1599 M1590,721 H1599" stroke="#222" stroke-width="1.2"/>
<polygon points="1502.5,713.0 1507.0,707.5 1536.0,711.0 1542.5,716.0 1542.5,724.0 1538.0,727.0 1503.0,722.0" fill="#202020" />
<polygon points="1507.0,707.5 1536.0,711.0 1542.5,716.0 1503.0,713.0" fill="#3a3a3a" />
<path d="M1496,713 L1503,715 L1503,718 L1496,717 Z" fill="#1a1a1a"/>
<polygon points="1446.2,761.2 1479.2,733.8 1555.0,750.0 1555.0,760.0 1530.0,790.0 1447.0,770.0" fill="#3e3f3a" />
<polygon points="1530.0,781.9 1555.0,750.0 1555.6,767.5 1530.6,801.2" fill="#2f2f2b" />
<polygon points="1446.2,761.2 1530.0,781.9 1530.6,801.2 1446.9,780.0" fill="#252522" />
<polygon points="1449.0,764.0 1527.0,783.5 1527.0,798.5 1449.5,777.5" fill="#2b2b28" stroke="#1b1b19" stroke-width="0.8"/>
<path d="M1534,784 L1553,760 M1534,789 L1553,765 M1534,794 L1553,770" stroke="#262624" stroke-width="1.2"/>
<ellipse cx="1553.5" cy="757" rx="1.5" ry="3.5" fill="#cfcfcf"/>
<polygon points="1452.2,769.0 1463.8,772.0 1463.8,782.8 1452.2,779.8" fill="#b9b5a4" />
<polygon points="1453.3,770.6 1462.7,773.0 1462.7,781.6 1453.3,778.8" fill="#0f0f0f" />
<circle cx="1454.2" cy="770.0" r="0.9" fill="#b8c83a"/>
<polygon points="1463.5,772.0 1475.1,775.0 1475.1,785.8 1463.5,782.8" fill="#b9b5a4" />
<polygon points="1464.6,773.6 1474.0,776.0 1474.0,784.6 1464.6,781.8" fill="#0f0f0f" />
<circle cx="1465.5" cy="773.0" r="0.9" fill="#b8c83a"/>
<polygon points="1474.9,775.0 1486.5,778.0 1486.5,788.8 1474.9,785.8" fill="#b9b5a4" />
<polygon points="1476.0,776.6 1485.4,779.0 1485.4,787.6 1476.0,784.8" fill="#0f0f0f" />
<circle cx="1476.9" cy="776.0" r="0.9" fill="#b8c83a"/>
<polygon points="1486.2,778.0 1497.8,781.0 1497.8,791.8 1486.2,788.8" fill="#b9b5a4" />
<polygon points="1487.3,779.6 1496.8,782.0 1496.8,790.6 1487.3,787.8" fill="#0f0f0f" />
<circle cx="1488.2" cy="779.0" r="0.9" fill="#b8c83a"/>
<polygon points="1501.0,780.6 1513.0,783.8 1513.0,796.0 1501.0,792.8" fill="#c2beae" />
<polygon points="1502.2,782.4 1511.8,784.9 1511.8,794.8 1502.2,791.6" fill="#101010" />
<polygon points="1514.7,785.0 1526.9,788.2 1526.9,798.8 1514.7,795.5" fill="#3c3c3a" />
<polygon points="1516.0,787.5 1525.5,790.0 1525.5,793.0 1516.0,790.5" fill="#1a1a1a" />
<circle cx="1518" cy="784" r="1" fill="#c8d03a"/>
<clipPath id="csw"><circle cx="1642.7" cy="761.3" r="43.3"/></clipPath>
<g clip-path="url(#csw)">
<rect x="1595" y="715" width="95" height="95" fill="#2a2a2c"/>
<polygon points="1595.0,715.0 1690.0,715.0 1690.0,735.0 1595.0,727.0" fill="#38383a" />
<polygon points="1595.0,724.0 1690.0,731.0 1690.0,733.5 1595.0,726.5" fill="#4e4e50" />
<polygon points="1595.0,778.0 1640.0,800.0 1640.0,810.0 1595.0,810.0" fill="#f4f4f4" />
<polygon points="1600.0,733.8 1633.4,736.0 1633.4,767.5 1600.0,765.5" fill="#a9a9a9" />
<polygon points="1602.0,736.0 1631.0,738.0 1631.0,762.0 1602.0,760.0" fill="#121213" />
<ellipse cx="1627.5" cy="743" rx="2.2" ry="1.5" fill="#5fbf4a"/>
<circle cx="1626.5" cy="734" r="0.9" fill="#eee"/>
<text x="1628" y="737.5" font-size="5.5" font-weight="bold" fill="#e8e8e8">PWR</text>
<path d="M1650.6,738.5 L1652,742.3 L1655.5,743.5 L1652,744.7 L1650.6,748.5 L1649.2,744.7 L1645.7,743.5 L1649.2,742.3 Z" fill="none" stroke="#e0da38" stroke-width="1.1"/>
<text x="1655.5" y="746.3" font-size="7.2" font-weight="bold" fill="#eee" textLength="16.5" lengthAdjust="spacingAndGlyphs">Pulsar</text>
<path d="M1652,746.5 L1672,750" stroke="#e0da38" stroke-width="1"/>
<rect x="1676" y="740" width="2" height="60" fill="#1c1c1d"/>
<polygon points="1635.7,750.4 1670.0,754.0 1670.0,792.6 1635.7,789.0" fill="#9b9b9b" />
<polygon points="1638.0,753.0 1667.5,756.5 1667.5,790.0 1638.0,786.5" fill="#2f2f30" />
<polygon points="1640.0,755.0 1665.0,758.0 1665.0,762.0 1640.0,759.0" fill="#8a8a8a" />
<text x="1656" y="790" font-size="5" font-weight="bold" fill="#ddd">SFP</text>
<path d="M1598,800 L1612,779 L1626,786 L1612,808 Z" fill="#dedede"/>
<path d="M1612,808 L1626,786 L1640,792 L1628,812 Z" fill="#e9e9e9"/>
<polygon points="1613.5,779.6 1622.8,765.7 1636.7,756.4 1661.7,762.0 1658.9,775.0 1650.6,786.0 1643.0,797.2 1633.9,793.5 1619.0,786.0" fill="#1f7fcc" />
<polygon points="1636.7,756.4 1661.7,762.0 1660.0,766.0 1634.0,761.0" fill="#3f9be0" />
<path d="M1645,780 l5,-8" stroke="#12518a" stroke-width="1.5"/>
</g>
<circle cx="1642.7" cy="761.3" r="43.3" fill="none" stroke="#111" stroke-width="1.6"/>
</g></defs>
<use href="#sw" x="0" y="0"/>
<use href="#sw" x="0" y="230.6"/>
<path d="M1523,790 V803 M1523,1020.6 V1033.6" stroke="#ffec00" stroke-width="2" fill="none"/>
</svg></body></html>
